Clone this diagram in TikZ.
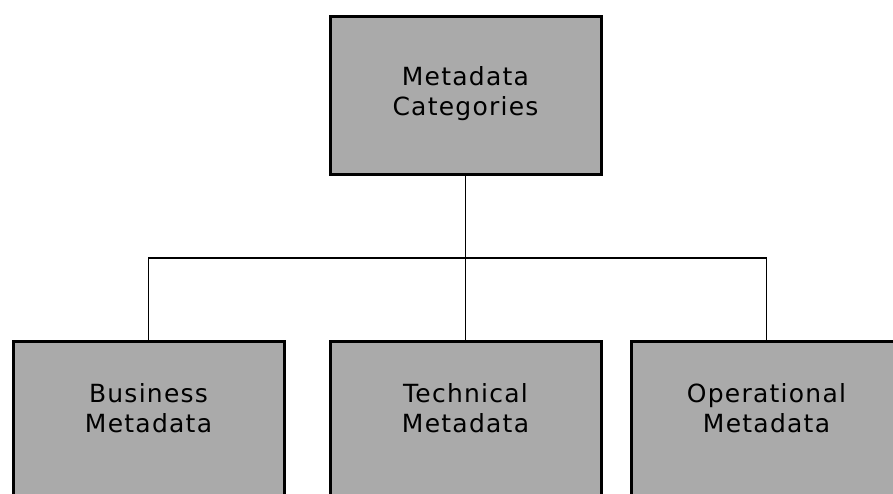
\documentclass[tikz,border=0pt]{standalone}
\usepackage{fontspec}
\newfontfamily\boxfont{DejaVu Sans}[LetterSpace=5]
\definecolor{boxgray}{RGB}{170,170,170}
\newcommand\uptext[2]{\raisebox{#1}[\height][\depth]{\begin{tabular}{@{}c@{}}#2\end{tabular}}}
\tikzset{
  catbox/.style={draw=black, line width=3pt, fill=boxgray, inner sep=0pt,
    minimum width=271pt, minimum height=158pt,
    font=\boxfont\fontsize{25}{30}\selectfont},
  link/.style={line width=1.5pt}
}
\begin{document}
\begin{tikzpicture}[x=1pt,y=-1pt]
  \useasboundingbox (0,0) rectangle (893,493);

  \node[catbox] (categories) at (465.5,95) {\uptext{1pt}{Metadata\\Categories}};
  \node[catbox] (business) at (148.5,420.5) {\uptext{9pt}{Business\\Metadata}};
  \node[catbox] (technical) at (465.5,420.5) {\uptext{9pt}{Technical\\Metadata}};
  \node[catbox] (operational) at (766.5,420.5) {\uptext{9pt}{Operational\\Metadata}};

  \coordinate (split) at (465.5,258);

  \draw[link] (categories.south) -- (technical.north);
  \draw[link] (business.north) |- (split) -| (operational.north);
\end{tikzpicture}
\end{document}
